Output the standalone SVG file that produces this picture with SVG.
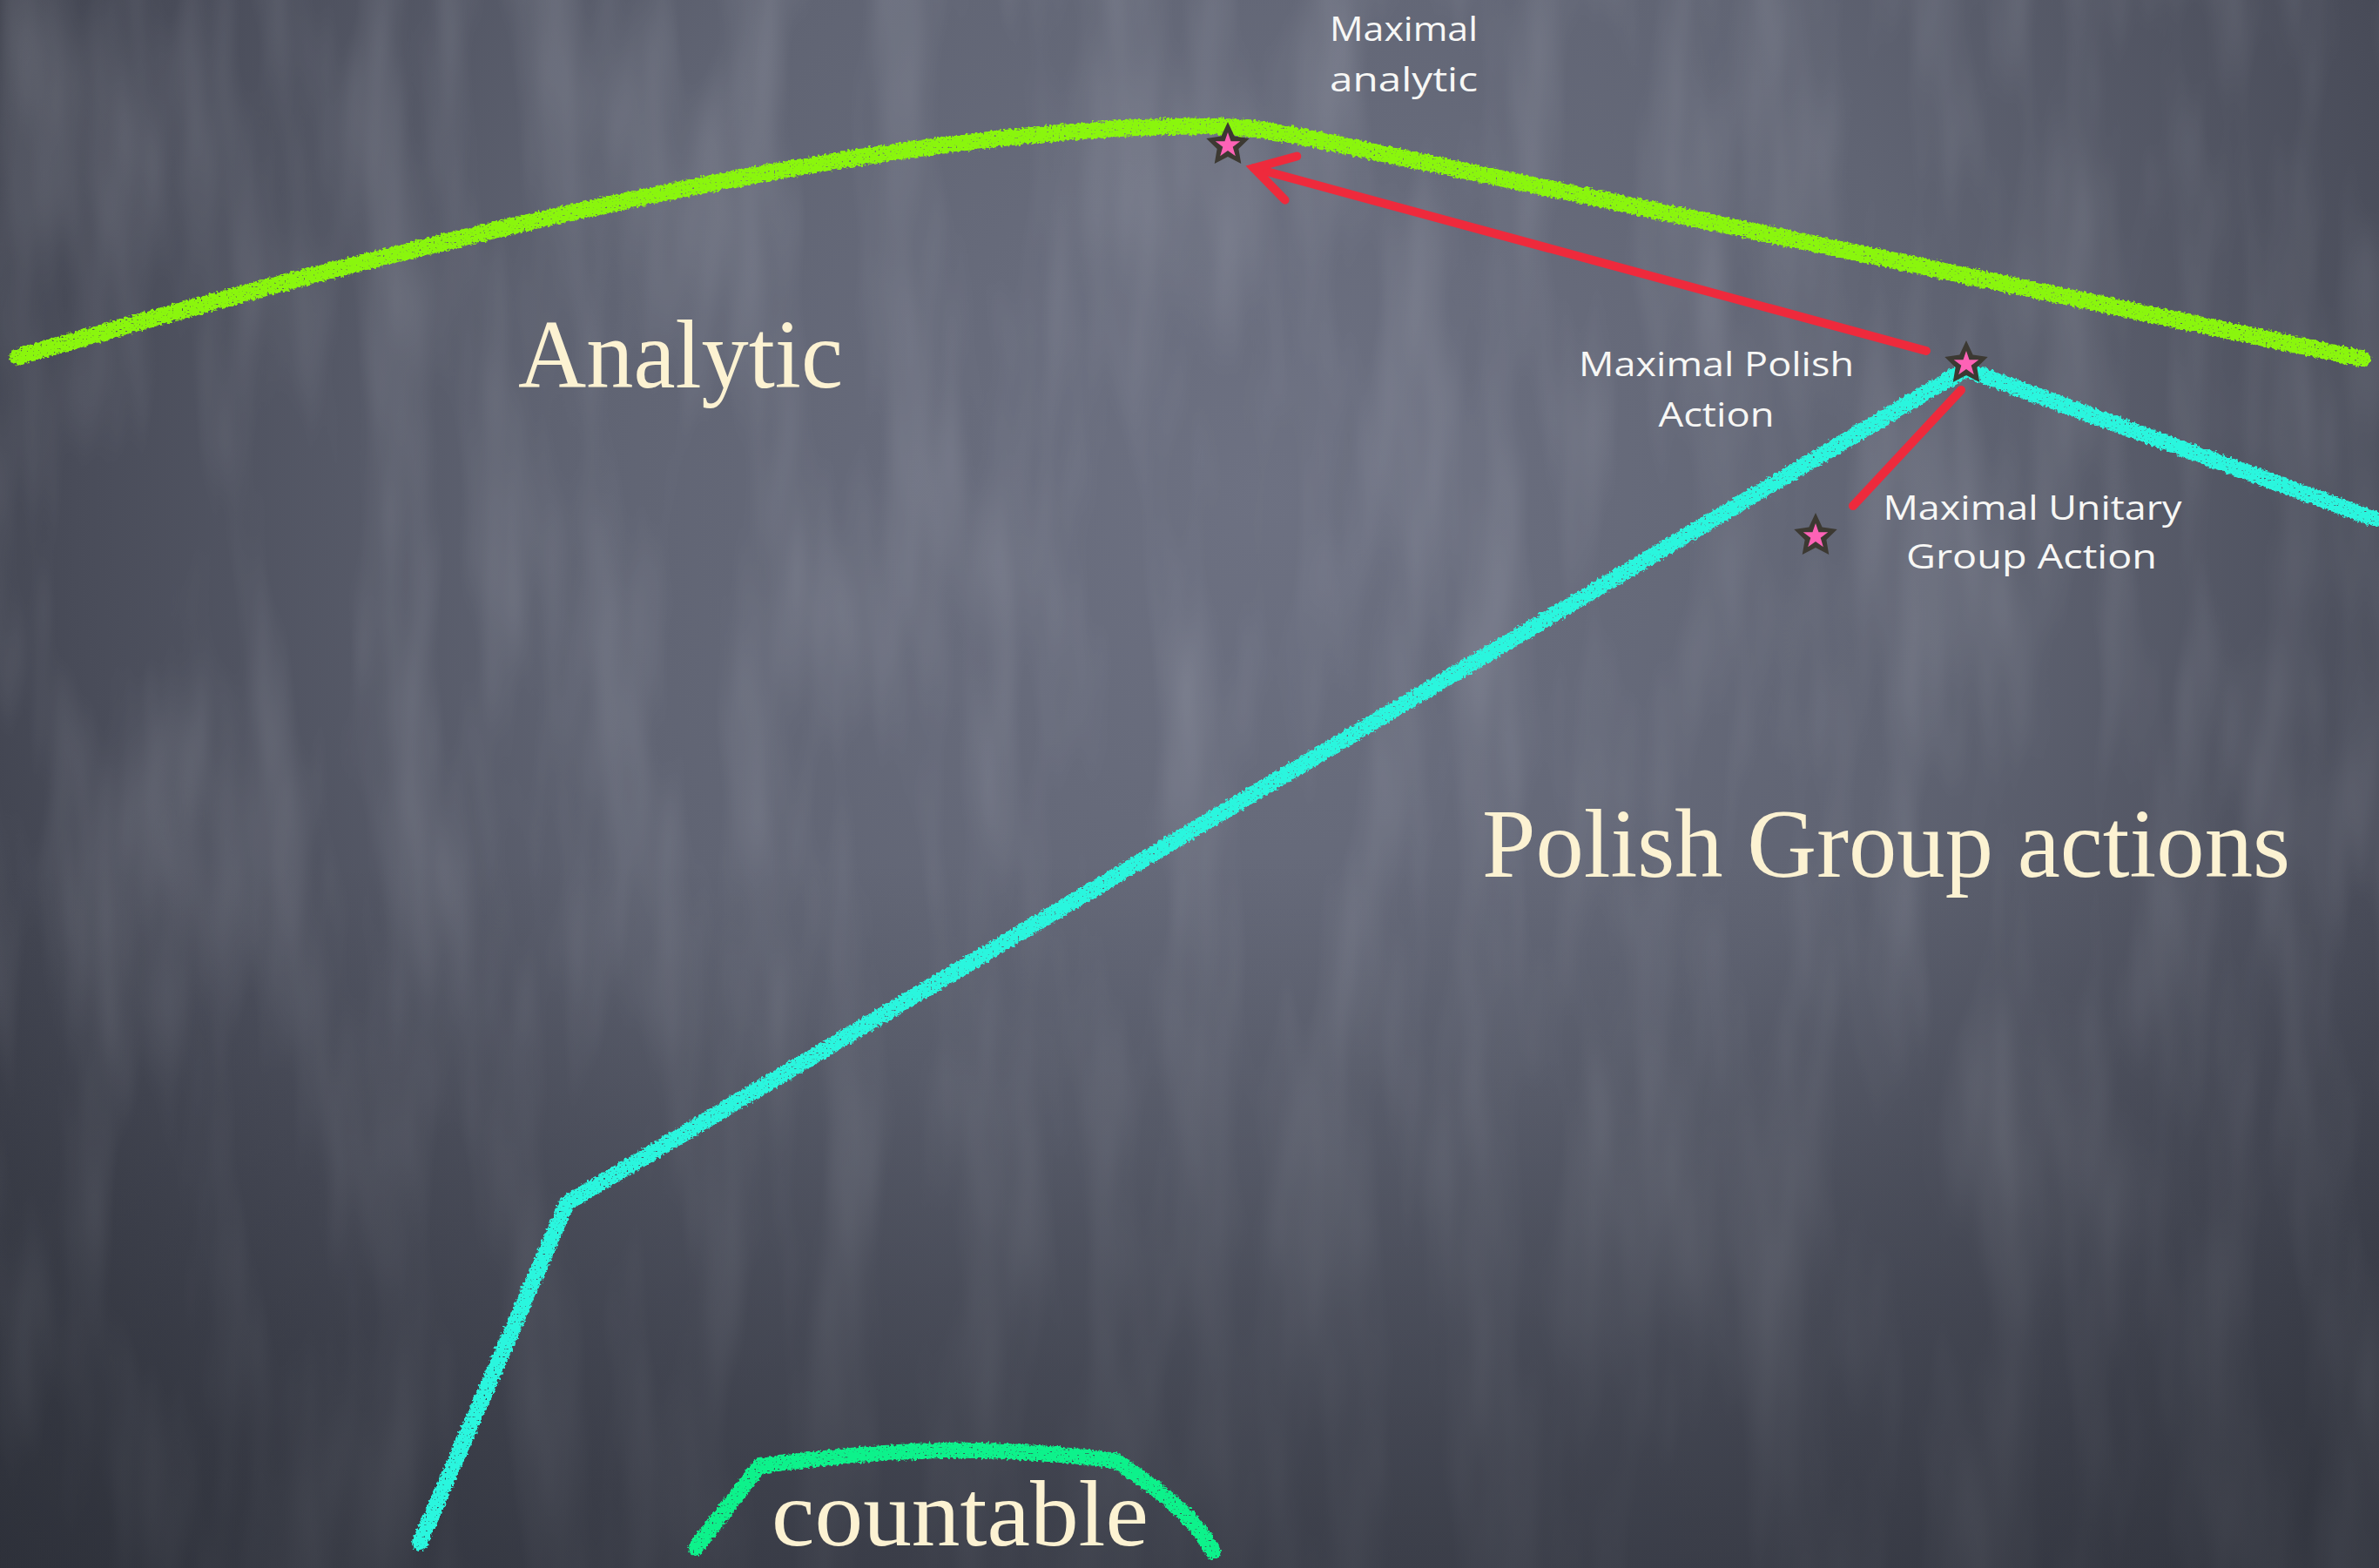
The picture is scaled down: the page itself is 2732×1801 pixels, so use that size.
<svg xmlns="http://www.w3.org/2000/svg" xmlns:xlink="http://www.w3.org/1999/xlink" width="2732" height="1801" viewBox="0 0 2732 1801">
  <defs>
    <radialGradient id="board" gradientUnits="userSpaceOnUse" cx="1450" cy="560" r="1950">
      <stop offset="0" stop-color="#6d7182"/>
      <stop offset="0.4" stop-color="#606473"/>
      <stop offset="0.7" stop-color="#494c59"/>
      <stop offset="1" stop-color="#2e313a"/>
    </radialGradient>
    <linearGradient id="floor" x1="0" y1="0" x2="0" y2="1">
      <stop offset="0" stop-color="#2c2f38" stop-opacity="0"/>
      <stop offset="0.55" stop-color="#2c2f38" stop-opacity="0"/>
      <stop offset="1" stop-color="#2c2f38" stop-opacity="0.55"/>
    </linearGradient>
    <filter id="smudge" filterUnits="userSpaceOnUse" x="0" y="0" width="2732" height="1801">
      <feTurbulence type="fractalNoise" baseFrequency="0.012 0.0025" numOctaves="3" seed="5" result="n"/>
      <feColorMatrix in="n" type="matrix" values="0 0 0 0 0.8  0 0 0 0 0.82  0 0 0 0 0.9  0.3 0 0 0 -0.12"/>
      <feComposite in2="SourceGraphic" operator="in"/>
    </filter>
    <filter id="chalk" filterUnits="userSpaceOnUse" x="0" y="0" width="2732" height="1801">
      <feTurbulence type="fractalNoise" baseFrequency="0.3" numOctaves="2" seed="3" result="n"/>
      <feDisplacementMap in="SourceGraphic" in2="n" scale="7" xChannelSelector="R" yChannelSelector="G" result="d"/>
      <feTurbulence type="fractalNoise" baseFrequency="0.45" numOctaves="1" seed="11" result="n2"/>
      <feColorMatrix in="n2" type="matrix" values="0 0 0 0 0  0 0 0 0 0  0 0 0 0 0  -8 0 0 0 6.2" result="holes"/>
      <feComposite in="d" in2="holes" operator="in"/>
    </filter>
    <marker id="arrow-open" markerUnits="userSpaceOnUse" markerWidth="80" markerHeight="80" refX="0" refY="0" viewBox="-60 -40 80 80" orient="auto" overflow="visible">
      <path d="M -44,-26 L 0,0 L -44,26" fill="none" stroke="#ee2a3c" stroke-width="10" stroke-linecap="round" stroke-linejoin="miter"/>
    </marker>
    <g id="star">
      <polygon points="0,-27 7.64,-10.52 24.73,-8.03 12.36,4.02 15.28,21.03 0,13 -15.28,21.03 -12.36,4.02 -24.73,-8.03 -7.64,-10.52" fill="#3c3932"/>
      <polygon points="0,-15 3.53,-4.85 14.27,-4.64 5.71,1.85 8.82,12.14 0,6 -8.82,12.14 -5.71,1.85 -14.27,-4.64 -3.53,-4.85" fill="#fd62b6"/>
    </g>
  </defs>
  <style>
    .serif { font-family: "Liberation Serif", "DejaVu Serif", serif; fill: #fcf2d2; }
    .hand { font-family: "Open Sans", "DejaVu Sans", sans-serif; fill: #f7f7f5; font-size: 39px; text-anchor: middle; }
    .chalk { fill: none; stroke-linecap: round; stroke-linejoin: round; filter: url(#chalk); }
    .lime { stroke: #8af60c; stroke-width: 19; }
    .aqua { stroke: #2cf6de; stroke-width: 18; }
    .mint { stroke: #10f28b; stroke-width: 18; }
    .red { stroke: #ee2a3c; stroke-width: 10; fill: none; stroke-linecap: round; }
  </style>

  <!-- chalkboard -->
  <rect width="2732" height="1801" fill="url(#board)"/>
  <rect width="2732" height="1801" fill="#ffffff" filter="url(#smudge)"/>
  <rect width="2732" height="1801" fill="url(#floor)"/>

  <!-- boundary chalk lines -->
  <g id="boundaries">
    <path id="analytic-boundary" class="chalk lime" d="M20,410 C450,285 1000,145 1380,145 C1430,145 1460,150 1510,160 L2713,412"/>
    <path id="polish-boundary" class="chalk aqua" d="M482,1772 L651,1382 L2257,424 L2727,596"/>
    <path id="countable-boundary" class="chalk mint" d="M799,1778 L872,1684 C960,1672 1050,1664 1130,1666 C1190,1668 1240,1672 1282,1678 C1330,1710 1370,1740 1393,1782"/>
  </g>

  <!-- region labels -->
  <g id="analytic-region">
    <text class="serif" x="595" y="445" font-size="112" textLength="373" lengthAdjust="spacingAndGlyphs">Analytic</text>
  </g>
  <g id="polish-region">
    <text class="serif" x="1702" y="1007" font-size="112" textLength="928" lengthAdjust="spacingAndGlyphs">Polish Group actions</text>
  </g>
  <g id="countable-region">
    <text class="serif" x="886" y="1775" font-size="108" textLength="433" lengthAdjust="spacingAndGlyphs">countable</text>
  </g>

  <!-- connectors -->
  <g id="connectors">
    <line id="polish-to-analytic" class="red" x1="2212" y1="403" x2="1440" y2="193" marker-end="url(#arrow-open)"/>
    <line id="polish-to-unitary" class="red" x1="2252" y1="448" x2="2128" y2="581"/>
  </g>

  <!-- marked points -->
  <g id="maximal-analytic">
    <use xlink:href="#star" x="1410" y="167"/>
    <text class="hand" x="1612" y="47" textLength="170" lengthAdjust="spacingAndGlyphs">Maximal</text>
    <text class="hand" x="1612" y="105" textLength="170" lengthAdjust="spacingAndGlyphs">analytic</text>
  </g>
  <g id="maximal-polish">
    <use xlink:href="#star" x="2258" y="418"/>
    <text class="hand" x="1971" y="432" textLength="316" lengthAdjust="spacingAndGlyphs">Maximal Polish</text>
    <text class="hand" x="1971" y="490" textLength="133" lengthAdjust="spacingAndGlyphs">Action</text>
  </g>
  <g id="maximal-unitary">
    <use xlink:href="#star" x="2085" y="616"/>
    <text class="hand" x="2334" y="597" textLength="343" lengthAdjust="spacingAndGlyphs">Maximal Unitary</text>
    <text class="hand" x="2333" y="653" textLength="288" lengthAdjust="spacingAndGlyphs">Group Action</text>
  </g>
</svg>
